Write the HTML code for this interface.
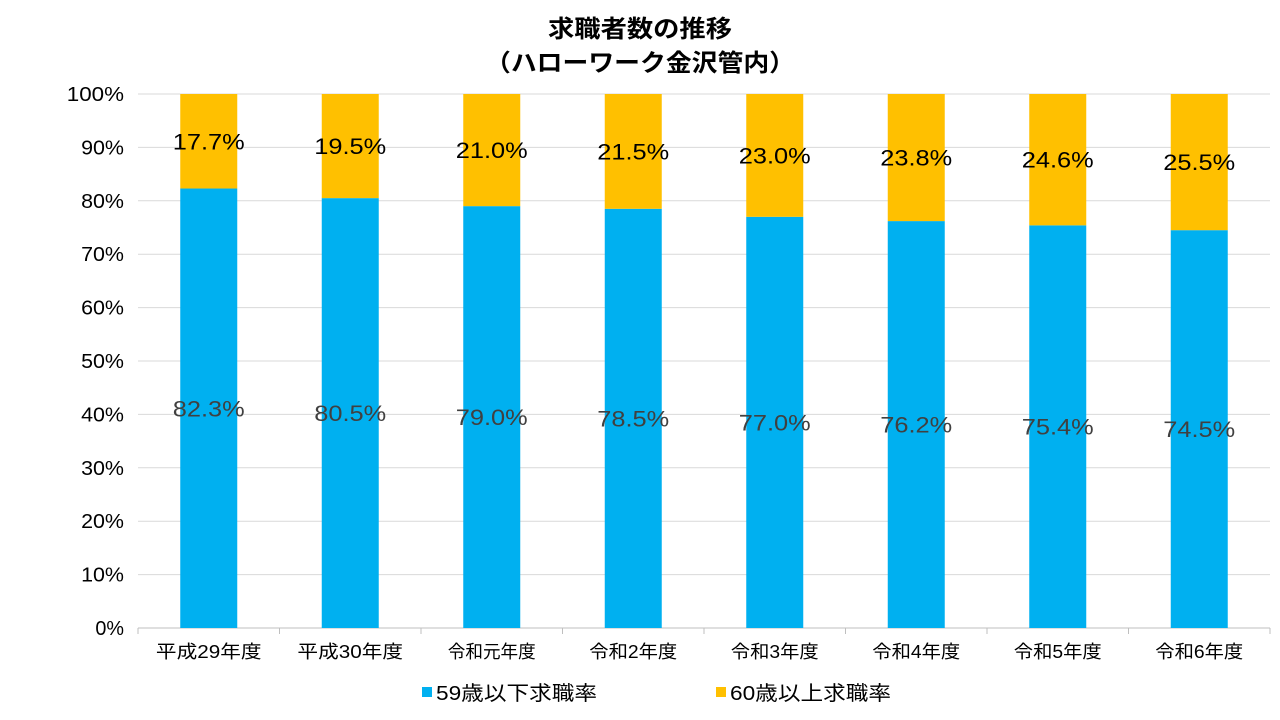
<!DOCTYPE html>
<html><head><meta charset="utf-8">
<style>
body{margin:0;background:#fff;}
svg{display:block;font-family:"Liberation Sans","Noto Sans CJK JP",sans-serif;}
</style></head>
<body>
<svg id="chart" width="1280" height="720" viewBox="0 0 1280 720">
<g>
<text x="640" y="37" text-anchor="middle" font-size="24" font-weight="bold" fill="#000" textLength="184" lengthAdjust="spacingAndGlyphs">求職者数の推移</text>
<text x="640" y="71" text-anchor="middle" font-size="24" font-weight="bold" fill="#000" textLength="310" lengthAdjust="spacingAndGlyphs">（ハローワーク金沢管内）</text>
</g>
<g id="grid"></g>
<g id="yaxis"></g>
<g id="bars"></g>
<g id="xaxis"></g>
<g>
<g>
<rect x="422" y="687" width="10" height="10" fill="#00b0f0"/>
<text x="436" y="700" font-size="20" fill="#000" textLength="161" lengthAdjust="spacingAndGlyphs">59歳以下求職率</text></g>
<g>
<rect x="716" y="687" width="10" height="10" fill="#ffc000"/>
<text x="730" y="700" font-size="20" fill="#000" textLength="161" lengthAdjust="spacingAndGlyphs">60歳以上求職率</text></g>
</g>
</svg>
<script>
const categories=["平成29年度","平成30年度","令和元年度","令和2年度","令和3年度","令和4年度","令和5年度","令和6年度"];
const under59=[82.3,80.5,79.0,78.5,77.0,76.2,75.4,74.5];
const over60=[17.7,19.5,21.0,21.5,23.0,23.8,24.6,25.5];
const yTicks=[0,10,20,30,40,50,60,70,80,90,100];
const NS="http://www.w3.org/2000/svg";
const x0=138,x1=1270,y0=628,y100=94;
const yS=v=>y0-(y0-y100)*v/100;
const band=(x1-x0)/categories.length;
const xC=i=>x0+band*(i+0.5);
const bw=57;
function mk(tag,attrs,parent,text){const e=document.createElementNS(NS,tag);for(const k in attrs)e.setAttribute(k,attrs[k]);if(text!==undefined)e.textContent=text;parent.appendChild(e);return e;}
const grid=document.getElementById('grid'),ya=document.getElementById('yaxis'),bars=document.getElementById('bars'),xa=document.getElementById('xaxis');
yTicks.forEach(t=>{
 const l=mk('line',{x1:x0,x2:x1,y1:yS(t),y2:yS(t),stroke:t===0?'#bfbfbf':'#d9d9d9','stroke-width':1},grid);
 
 
 const s=t+'%';
 const tx=mk('text',{x:124,y:yS(t)+7,'text-anchor':'end','font-size':20,fill:'#000',textLength:s.length*14.3,lengthAdjust:'spacingAndGlyphs'},ya,s);
 
 
});
for(let i=0;i<=categories.length;i++){
 const tk=mk('line',{x1:x0+band*i,x2:x0+band*i,y1:y0,y2:y0+6,stroke:'#bfbfbf'},xa);
 
 
}
categories.forEach((c,i)=>{
 const cx=xC(i);
 const a=under59[i],b=over60[i];
 const r1=mk('rect',{x:cx-bw/2,y:yS(a),width:bw,height:yS(0)-yS(a),fill:'#00b0f0'},bars);
 
 
 const r2=mk('rect',{x:cx-bw/2,y:yS(a+b),width:bw,height:yS(a)-yS(a+b),fill:'#ffc000'},bars);
 
 
 const t1=mk('text',{x:cx,y:yS(a/2)+8,'text-anchor':'middle','font-size':22,fill:'#404040',textLength:72,lengthAdjust:'spacingAndGlyphs'},bars,a.toFixed(1)+'%');
 
 
 const t2=mk('text',{x:cx,y:yS(a+b/2)+8,'text-anchor':'middle','font-size':22,fill:'#000',textLength:72,lengthAdjust:'spacingAndGlyphs'},bars,b.toFixed(1)+'%');
 
 
 const cl=mk('text',{x:cx,y:658,'text-anchor':'middle','font-size':18,fill:'#000',textLength:c.length*17.6,lengthAdjust:'spacingAndGlyphs'},xa,c);
 
 
});
</script>
</body></html>
